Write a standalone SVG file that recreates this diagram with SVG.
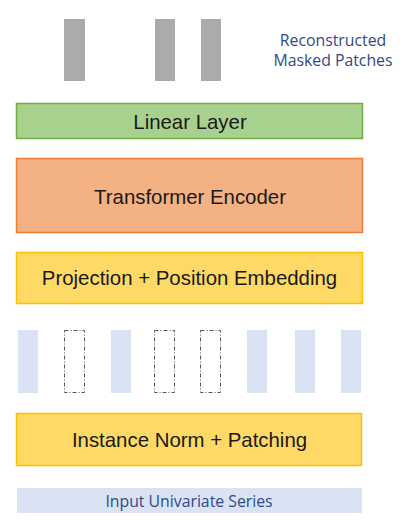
<svg xmlns="http://www.w3.org/2000/svg" width="404" height="521" viewBox="0 0 404 521">
<style>
.lbl{font-family:"Liberation Sans",Arial,sans-serif;font-size:20.4px;fill:#1a1a1a;text-anchor:middle;dominant-baseline:central}
.blue{font-family:"Open Sans","Liberation Sans",sans-serif;fill:#2F4A8A;text-anchor:middle;dominant-baseline:central}
.out{fill:#ABABAB}
.in{fill:#DAE3F3}
.mask{fill:none;stroke:#555;stroke-width:1;stroke-dasharray:4 2 1 2}
</style>
<rect width="404" height="521" fill="#fff"/>
<g id="output-patches">
<rect class="out" x="64" y="19" width="21" height="62"/>
<rect class="out" x="155" y="19" width="20" height="62"/>
<rect class="out" x="201" y="19" width="20" height="62"/>
<text class="blue" x="333" y="40" font-size="15.8">Reconstructed</text>
<text class="blue" x="333" y="60" font-size="15.8">Masked Patches</text>
</g>
<g id="linear-layer">
<rect x="16.5" y="103.5" width="346" height="35" fill="#A9D18E" stroke="#70AD47" stroke-width="1.5"/>
<text class="lbl" x="190" y="122">Linear Layer</text>
</g>
<g id="transformer-encoder">
<rect x="16.5" y="158.5" width="346" height="74" fill="#F4B183" stroke="#ED7D31" stroke-width="1.5"/>
<text class="lbl" x="190" y="197" font-size="20.8">Transformer Encoder</text>
</g>
<g id="projection">
<rect x="16.5" y="252.5" width="346" height="51" fill="#FFD966" stroke="#FFC000" stroke-width="1.5"/>
<text class="lbl" x="189.5" y="278">Projection + Position Embedding</text>
</g>
<g id="input-patches">
<rect class="in" x="18" y="330" width="20" height="63"/>
<rect class="mask" x="64.5" y="330.5" width="20" height="62"/>
<rect class="in" x="111" y="330" width="20" height="63"/>
<rect class="mask" x="154.5" y="330.5" width="20" height="62"/>
<rect class="mask" x="200.5" y="330.5" width="20" height="62"/>
<rect class="in" x="247" y="330" width="20" height="63"/>
<rect class="in" x="295" y="330" width="20" height="63"/>
<rect class="in" x="341" y="330" width="20" height="63"/>
</g>
<g id="instance-norm">
<rect x="16.5" y="413.5" width="345" height="52" fill="#FFD966" stroke="#FFC000" stroke-width="1.5"/>
<text class="lbl" x="189.5" y="440">Instance Norm + Patching</text>
</g>
<g id="input-series">
<rect class="in" x="17" y="488" width="345" height="25"/>
<text class="blue" x="189" y="501" font-size="15.8">Input Univariate Series</text>
</g>
<g id="connectors"></g>
</svg>
